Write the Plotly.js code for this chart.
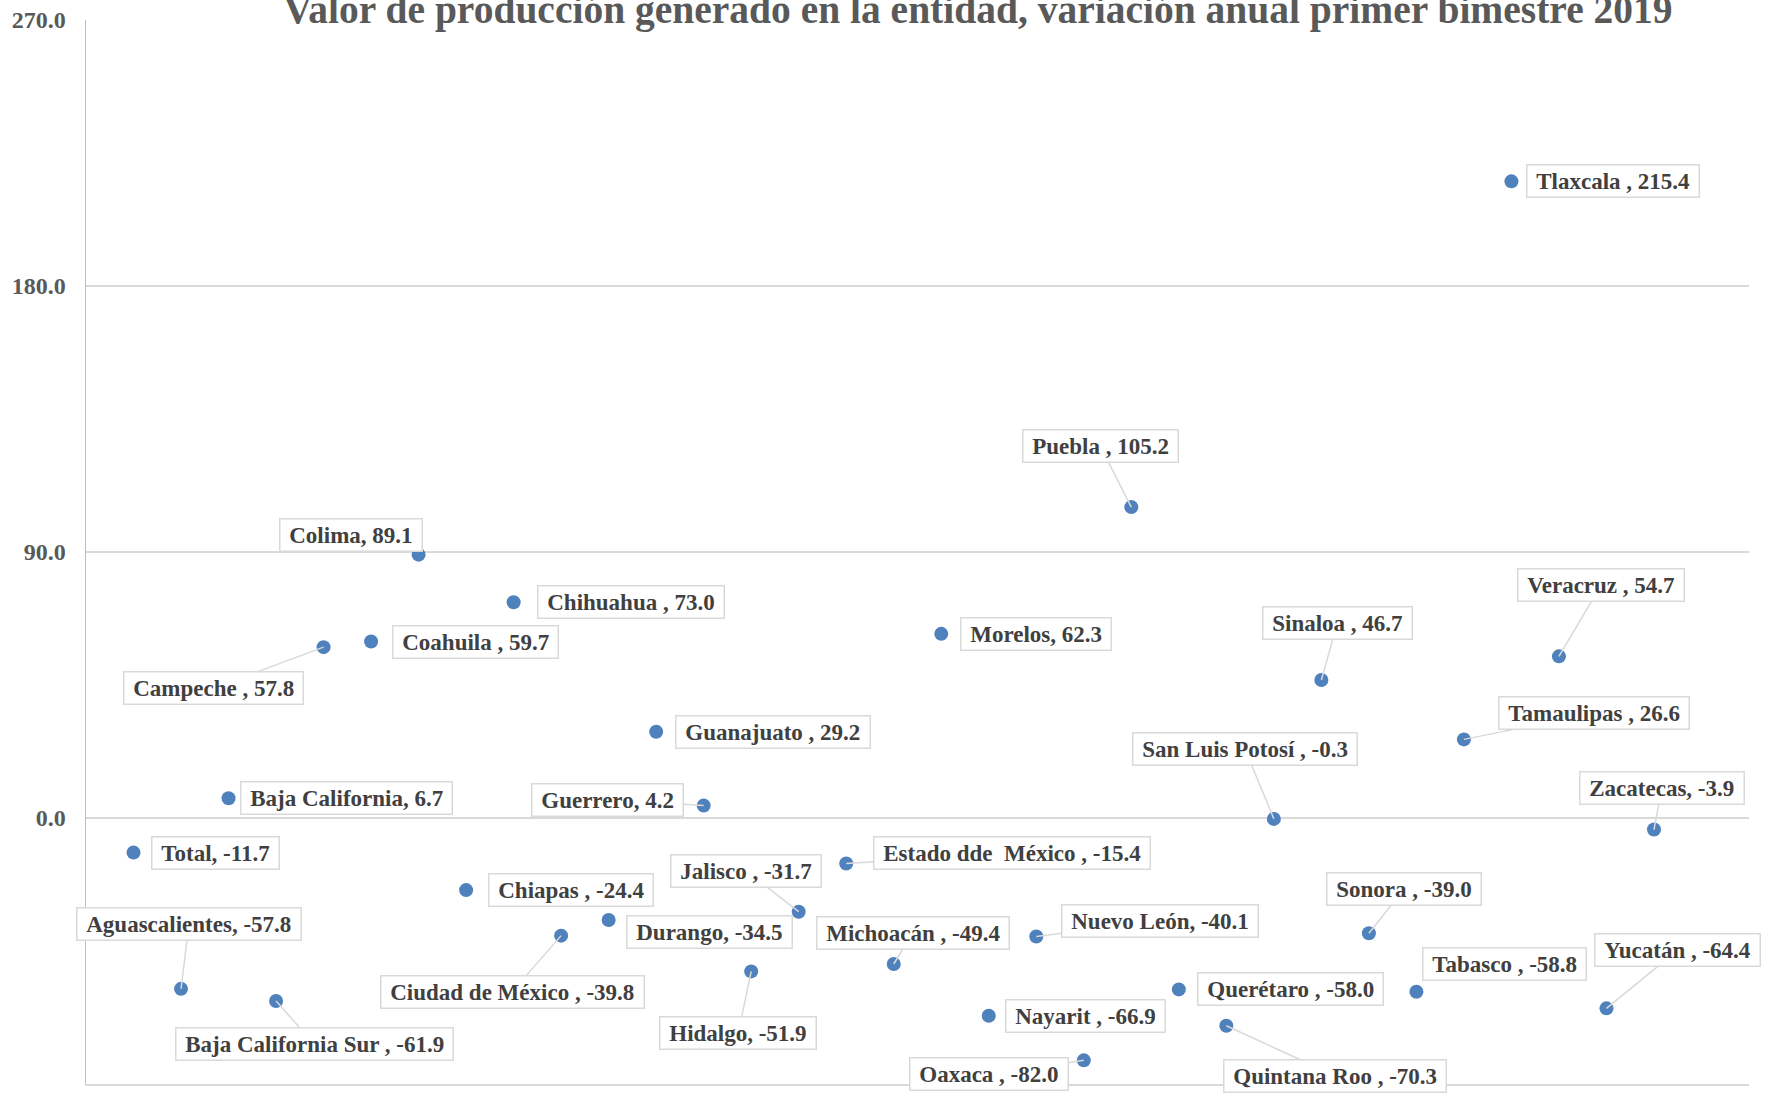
<!DOCTYPE html>
<html>
<head>
<meta charset="utf-8">
<script src="https://cdn.plot.ly/plotly-3.0.1.min.js"></script>
<style>html,body{margin:0;padding:0;background:#fff;}#chart{width:1775px;height:1094px;}</style>
</head>
<body>
<div id="chart"></div>
<script>
// ---- data ----
const entidades = ["Total", "Aguascalientes", "Baja California", "Baja California Sur ", "Campeche ", "Coahuila ",
  "Colima", "Chiapas ", "Chihuahua ", "Ciudad de México ", "Durango", "Guanajuato ", "Guerrero", "Hidalgo",
  "Jalisco ", "Estado dde  México ", "Michoacán ", "Morelos", "Nayarit ", "Nuevo León", "Oaxaca ", "Puebla ",
  "Querétaro ", "Quintana Roo ", "San Luis Potosí ", "Sinaloa ", "Sonora ", "Tabasco ", "Tamaulipas ",
  "Tlaxcala ", "Veracruz ", "Yucatán ", "Zacatecas"];
const variacion = [-11.7, -57.8, 6.7, -61.9, 57.8, 59.7, 89.1, -24.4, 73.0, -39.8, -34.5, 29.2, 4.2, -51.9,
  -31.7, -15.4, -49.4, 62.3, -66.9, -40.1, -82.0, 105.2, -58.0, -70.3, -0.3, 46.7, -39.0, -58.8, 26.6,
  215.4, 54.7, -64.4, -3.9];
const yTicks = [-90, 0, 90, 180, 270];
const titulo = "Valor de producción generado en la entidad, variación anual primer bimestre 2019";

// ---- label layout (pixel offsets of label centre from point, and leader line flag) ----
const labelLayout = [
  [82, 0, 0], [8, -65, 1], [118, 0, 0], [38, 43, 1], [-110, 41, 1], [104, 0, 0],
  [-68, -20, 0], [105, 0, 0], [117, 0, 0], [-49, 56, 1], [101, 12, 0], [117, 0, 0],
  [-96, -6, 1], [-13, 62, 1], [-53, -41, 1], [166, -11, 1], [19, -31, 1], [95, 0, 0],
  [97, 0, 0], [124, -16, 1], [-95, 14, 1], [-31, -61, 1], [112, 0, 0], [109, 50, 1],
  [-29, -70, 1], [16, -57, 1], [35, -44, 1], [88, -28, 0], [130, -26, 1], [102, 0, 0],
  [42, -71, 1], [71, -58, 1], [8, -42, 1]
];

const FONT = "'Liberation Serif', 'Times New Roman', serif";
const xs = entidades.map((_, i) => i + 1);

const trace = {
  type: "scatter",
  mode: "markers",
  x: xs,
  y: variacion,
  marker: {color: "#4F81BD", size: 14},
  hoverinfo: "skip",
  showlegend: false
};

const annotations = entidades.map((n, i) => {
  const lay = labelLayout[i];
  const txt = "\u00A0" + n.replace(/  /g, " \u00A0") + ", " + variacion[i].toFixed(1) + "\u00A0";
  return {
    x: xs[i], y: variacion[i], xref: "x", yref: "y",
    text: txt,
    showarrow: true, arrowhead: 0, standoff: 0,
    arrowwidth: 1.5,
    arrowcolor: lay[2] ? "#d9d9d9" : "rgba(0,0,0,0)",
    ax: lay[0], ay: lay[1], axref: "pixel", ayref: "pixel",
    font: {family: FONT, size: 23, color: "#404040", weight: "bold"},
    bgcolor: "#ffffff", bordercolor: "#d9d9d9", borderwidth: 1.5, borderpad: 3
  };
});

const layout = {
  width: 1775, height: 1094,
  margin: {l: 86, r: 26, t: 20, b: 10},
  paper_bgcolor: "#ffffff", plot_bgcolor: "#ffffff",
  title: {
    text: titulo,
    x: 978 / 1775, xref: "container", xanchor: "center",
    y: 1 - 9 / 1094, yref: "container", yanchor: "middle",
    font: {family: FONT, size: 39.5, color: "#595959", weight: "bold"}
  },
  xaxis: {range: [0, 35], showgrid: false, zeroline: false, showline: true, linecolor: "#d9d9d9", linewidth: 1.5,
    showticklabels: false, ticks: ""},
  yaxis: {
    range: [-90, 270], tickvals: yTicks, ticktext: yTicks.map(v => v.toFixed(1)),
    showgrid: true, gridcolor: "#d9d9d9", gridwidth: 1.5,
    zeroline: true, zerolinecolor: "#d9d9d9", zerolinewidth: 1.5,
    showline: true, linecolor: "#bfbfbf", linewidth: 1.5,
    ticks: "", ticklabelstandoff: 14,
    tickfont: {family: FONT, size: 24, color: "#595959", weight: "bold"}
  },
  annotations: annotations
};

Plotly.newPlot("chart", [trace], layout, {displayModeBar: false, staticPlot: true});
</script>
</body>
</html>
